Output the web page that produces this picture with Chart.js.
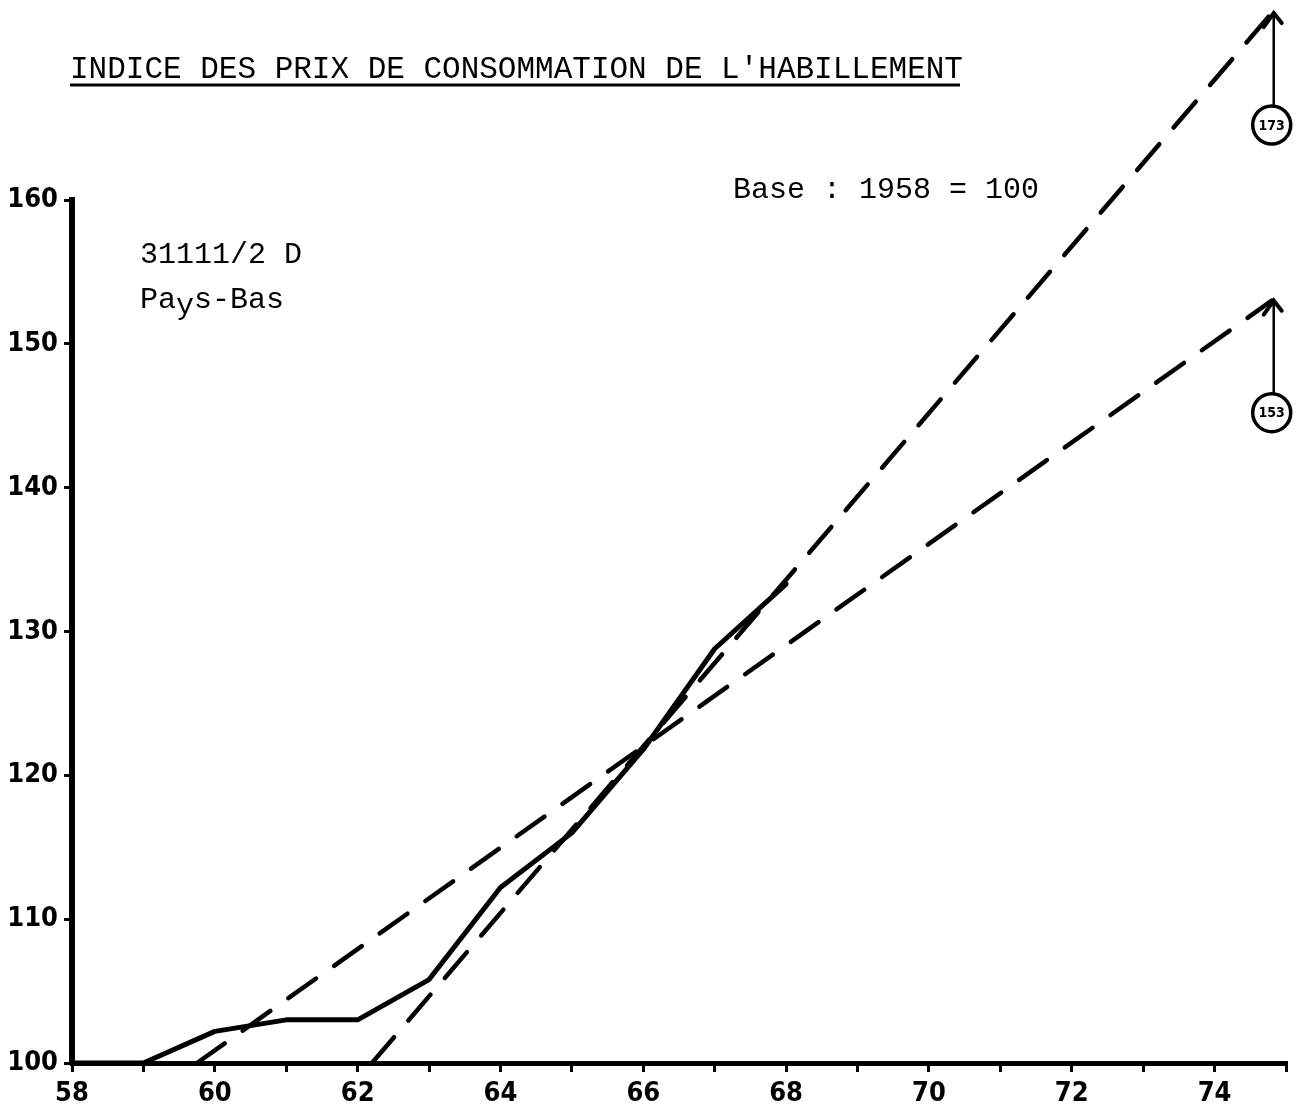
<!DOCTYPE html>
<html>
<head>
<meta charset="utf-8">
<script src="https://cdn.jsdelivr.net/npm/chart.js@4.4.1/dist/chart.umd.min.js"></script>
<style>
  body { margin: 0; background: #fff; }
  #wrap { width: 1303px; height: 1109px; }
</style>
</head>
<body>
<div id="wrap"><canvas id="chart" width="1303" height="1109"></canvas></div>
<script>
// valeurs
const annees = [58, 59, 60, 61, 62, 63, 64, 65, 66, 67, 68];
const indice = [100, 100, 102.2, 103, 103, 105.8, 112.2, 116, 121.8, 128.8, 133.3];

// tendances (extrapolation jusqu'en 1975)
const tendanceHaute = [{ x: 62.2, y: 100 }, { x: 74.8, y: 173 }];
const tendanceBasse = [{ x: 59.75, y: 100 }, { x: 74.8, y: 153 }];
const valeursFleches = [173, 153];

const titre = "INDICE DES PRIX DE CONSOMMATION DE L'HABILLEMENT";
const base = "Base : 1958 = 100";
const code = "31111/2 D";

const mono = '"Liberation Mono", "DejaVu Sans Mono", monospace';
const main = '"Liberation Sans Narrow", "DejaVu Sans Condensed", "DejaVu Sans", sans-serif';

// textes et fleches
const decor = {
  id: 'decor',
  afterDraw(c) {
    const ctx = c.ctx, x = c.scales.x, y = c.scales.y;
    ctx.save();
    ctx.fillStyle = '#000';
    ctx.strokeStyle = '#000';

    ctx.font = '31px ' + mono;
    ctx.fillText(titre, 70, 78);
    ctx.lineWidth = 3;
    ctx.beginPath(); ctx.moveTo(70, 85); ctx.lineTo(960, 85); ctx.stroke();

    ctx.font = '30px ' + mono;
    ctx.fillText(base, 733, 198);
    ctx.fillText(code, 140, 263);
    let px = 140;
    ctx.fillText('Pa', px, 308); px += ctx.measureText('Pa').width;
    ctx.fillText('y', px, 314); px += ctx.measureText('y').width;
    ctx.fillText('s-Bas', px, 308);

    valeursFleches.forEach(v => {
      const ax = x.getPixelForValue(74.8) + 2;
      const ay = y.getPixelForValue(v);
      const cy = ay + 112, r = 19;
      ctx.lineWidth = 2.5;
      ctx.beginPath(); ctx.moveTo(ax, cy - r); ctx.lineTo(ax, ay); ctx.stroke();
      ctx.lineWidth = 4;
      ctx.lineCap = 'round';
      ctx.beginPath();
      ctx.moveTo(ax - 10, ay + 14); ctx.lineTo(ax, ay); ctx.lineTo(ax + 8, ay + 10);
      ctx.stroke();
      ctx.lineWidth = 3.5;
      ctx.beginPath(); ctx.arc(ax - 2, cy, r, 0, Math.PI * 2); ctx.stroke();
      ctx.font = 'bold 14px ' + main;
      ctx.textAlign = 'center'; ctx.textBaseline = 'middle';
      ctx.fillText(String(v), ax - 2, cy + 1);
      ctx.textAlign = 'left'; ctx.textBaseline = 'alphabetic';
    });
    ctx.restore();
  }
};

const fond = {
  id: 'fond',
  beforeDraw(c) {
    c.ctx.save();
    c.ctx.fillStyle = '#fff';
    c.ctx.fillRect(0, 0, c.width, c.height);
    c.ctx.restore();
  }
};

new Chart(document.getElementById('chart'), {
  type: 'line',
  data: {
    datasets: [
      {
        data: annees.map((a, i) => ({ x: a, y: indice[i] })),
        borderColor: '#000', borderWidth: 5, pointRadius: 0, tension: 0,
        borderJoinStyle: 'round', borderCapStyle: 'round', clip: false
      },
      {
        data: tendanceHaute,
        borderColor: '#000', borderWidth: 4.5, pointRadius: 0,
        borderDash: [34, 22], borderCapStyle: 'round', clip: false
      },
      {
        data: tendanceBasse,
        borderColor: '#000', borderWidth: 4.5, pointRadius: 0,
        borderDash: [34, 22], borderCapStyle: 'round', clip: false
      }
    ]
  },
  options: {
    responsive: false,
    animation: false,
    layout: { padding: { top: 200, right: 17, left: 0, bottom: 0 } },
    plugins: { legend: { display: false }, tooltip: { enabled: false } },
    scales: {
      x: {
        type: 'linear', min: 58, max: 75,
        afterFit: s => { s.height = 46; },
        border: { display: true, color: '#000', width: 5 },
        grid: { drawOnChartArea: false, drawTicks: true, tickLength: 9, color: '#000', lineWidth: 3 },
        ticks: {
          stepSize: 1, autoSkip: false, maxRotation: 0, padding: 6, color: '#000',
          font: { family: main, size: 27, weight: 'bold' },
          callback: v => (v % 2 === 0 ? String(v) : '')
        }
      },
      y: {
        min: 100, max: 160,
        afterFit: s => { s.width = 72; },
        border: { display: true, color: '#000', width: 6 },
        grid: { drawOnChartArea: false, drawTicks: true, tickLength: 8, color: '#000', lineWidth: 3 },
        ticks: {
          stepSize: 10, padding: 6, color: '#000',
          font: { family: main, size: 27, weight: 'bold' }
        }
      }
    }
  },
  plugins: [fond, decor]
});
</script>
</body>
</html>
